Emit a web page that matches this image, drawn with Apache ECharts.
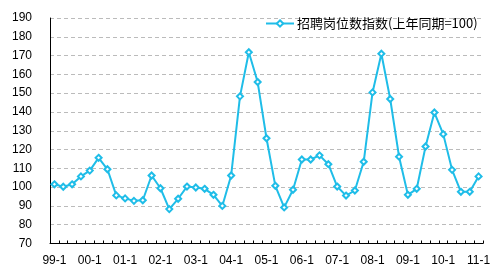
<!DOCTYPE html>
<html>
<head>
<meta charset="utf-8">
<script src="https://cdn.jsdelivr.net/npm/echarts@6/dist/echarts.min.js"></script>
<style>html,body{margin:0;padding:0;background:#fff}#c{width:503px;height:275px}</style>
</head>
<body>
<div id="c"></div>
<script>
const years = ['99','00','01','02','03','04','05','06','07','08','09','10','11'];
const categories = [];
years.forEach(function (y, i) {
  const qs = i === years.length - 1 ? [1] : [1, 2, 3, 4];
  qs.forEach(function (q) { categories.push(y + '-' + q); });
});
const seriesName = '招聘岗位数指数(上年同期=100)';
const values = [
  101.5, 100.2, 101.5, 105.7, 108.8, 115.6, 109.5, 95.6, 94, 92.7, 93,
  106.2, 99.4, 88.3, 93.8, 100.3, 99.8, 99.1, 95.9, 90,
  106.2, 148.3, 171.8, 155.9, 126, 100.7, 89.2, 98.6, 114.7, 114.7, 116.9, 112.2,
  100.3, 95.5, 98.2, 113.5, 150.4, 171, 146.9, 116.2, 95.9, 99.1,
  121.6, 139.7, 128.2, 109.2, 97.5, 97.5, 105.7
];
const yMin = 70, yMax = 190, yStep = 10;

const chart = echarts.init(document.getElementById('c'), null, {renderer: 'canvas'});
chart.setOption({
  animation: false,
  textStyle: {fontFamily: '"Noto Sans CJK SC", "Liberation Sans", sans-serif'},
  grid: {left: 50, right: 20, top: 18, bottom: 31.5, containLabel: false},
  legend: {
    data: [seriesName],
    left: 260, top: 12,
    itemWidth: 28, itemHeight: 8, itemGap: 4,
    textStyle: {fontSize: 13, color: '#000', fontFamily: '"Noto Sans CJK SC", sans-serif', padding: [0, 0, 0, -2]}
  },
  xAxis: {
    type: 'category',
    data: categories,
    boundaryGap: true,
    axisLine: {lineStyle: {color: '#000', width: 1}},
    axisTick: {show: true, inside: true, length: 3, interval: 0, lineStyle: {color: '#000'}},
    axisLabel: {interval: 3, color: '#000', fontSize: 12, margin: 11, fontFamily: '"Liberation Sans", sans-serif'},
    splitLine: {show: false}
  },
  yAxis: {
    type: 'value',
    min: yMin, max: yMax, interval: yStep,
    axisLine: {show: true, lineStyle: {color: '#000', width: 1}},
    axisTick: {show: false},
    axisLabel: {color: '#000', fontSize: 12, margin: 18, fontFamily: '"Liberation Sans", sans-serif'},
    splitLine: {show: true, lineStyle: {color: '#bbbbbb', type: [4, 3], width: 1}}
  },
  series: [{
    name: seriesName,
    type: 'line',
    data: values,
    showSymbol: true,
    showAllSymbol: true,
    symbol: 'emptyDiamond',
    symbolSize: 6,
    lineStyle: {color: '#1FBDE8', width: 2},
    itemStyle: {color: '#1FBDE8', borderColor: '#1FBDE8', borderWidth: 1},
    z: 3
  }]
});
</script>
</body>
</html>
